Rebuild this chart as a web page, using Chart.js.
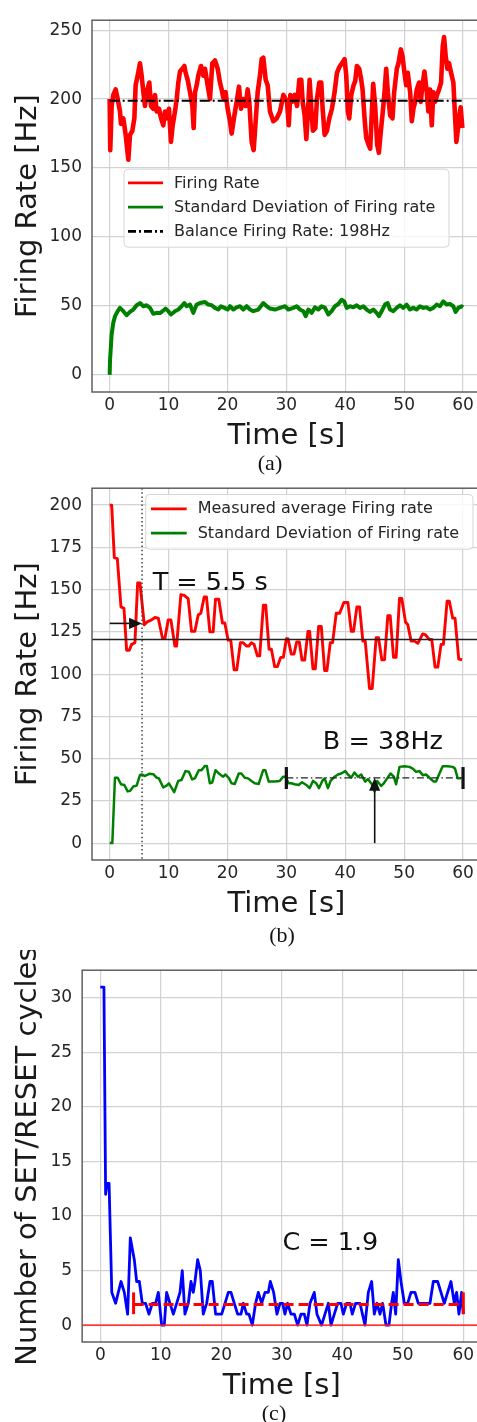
<!DOCTYPE html>
<html><head><meta charset="utf-8">
<script src="https://cdn.jsdelivr.net/npm/chart.js@4.4.0/dist/chart.umd.min.js"></script>
<style>
html,body{margin:0;padding:0;background:#fff;overflow:hidden;width:477px;height:1422px;position:relative;}
.panel{position:absolute;left:0;}
canvas{display:block;}
.cap{position:absolute;font-family:'Liberation Serif','Times New Roman',serif;font-size:22px;color:#111;transform:translate(-50%,-50%);white-space:nowrap;line-height:1;}
</style></head><body>
<div class="panel" style="top:0px"><canvas id="ca" width="490" height="455" style="width:490px;height:455px"></canvas></div>
<div class="panel" style="top:468px"><canvas id="cb" width="490" height="455" style="width:490px;height:455px"></canvas></div>
<div class="panel" style="top:950px"><canvas id="cc" width="490" height="455" style="width:490px;height:455px"></canvas></div>
<div class="cap" style="left:270px;top:463px">(a)</div>
<div class="cap" style="left:282px;top:935px">(b)</div>
<div class="cap" style="left:274px;top:1413px">(c)</div>
<script>
// ---------- shared ----------
const timeTicks = [0, 10, 20, 30, 40, 50, 60];

// ---------- panel (a) ----------
const aRateTime = [0,0.1,0.34,0.62,1.02,1.36,1.75,1.92,2.32,2.72,3.17,3.45,3.85,4.19,4.41,4.75,5.15,5.43,5.72,6.0,6.28,6.73,7.02,7.41,7.7,7.98,8.38,8.72,9.11,9.39,9.68,10.07,10.41,10.7,11.09,11.38,11.66,11.94,12.34,12.68,12.9,13.24,13.64,14.04,14.26,14.49,14.77,15.05,15.51,15.9,16.19,16.64,17.03,17.43,17.88,18.34,18.73,19.02,19.3,19.69,20.03,20.43,20.71,21.17,21.56,21.96,22.3,22.69,23.09,23.43,23.71,24.11,24.45,24.79,25.13,25.52,25.81,26.09,26.49,26.83,27.22,27.79,28.35,28.92,29.49,30.11,30.4,30.68,30.96,31.41,31.81,32.2,32.54,32.77,33.11,33.39,33.67,33.95,34.24,34.52,34.92,35.2,35.59,35.93,36.16,36.5,36.89,37.29,37.74,38.19,38.59,38.98,39.44,39.89,40.17,40.45,40.68,41.02,41.41,41.69,41.98,42.37,42.71,42.94,43.28,43.56,43.95,44.24,44.52,44.75,45.08,45.42,45.71,46.05,46.38,46.67,46.95,47.23,47.63,48.02,48.31,48.76,49.04,49.44,49.72,50.06,50.34,50.62,51.02,51.3,51.58,51.86,52.15,52.54,52.82,53.11,53.45,53.84,54.12,54.41,54.69,54.97,55.25,55.59,55.93,56.27,56.55,56.78,57.06,57.34,57.63,57.97,58.36,58.64,58.87,59.1,59.38,59.6,59.89];
const aRate = [200,163,195,203,207,200,191,182,186,174,156,174,177,186,210,217,226,217,205,195,205,212,195,193,203,191,193,186,181,191,186,193,169,181,191,200,212,220,222,224,219,214,205,195,179,205,210,217,224,217,222,210,200,226,228,222,212,207,201,205,193,184,175,188,198,209,193,200,195,207,198,169,163,184,205,217,229,230,214,210,191,184,186,191,203,198,181,203,198,203,195,214,214,198,188,171,191,214,193,177,179,200,212,212,193,174,177,186,193,205,219,223,226,229,217,191,186,203,210,213,224,222,214,207,186,172,167,164,191,211,195,167,161,177,191,205,222,205,188,186,205,222,226,236,231,219,210,219,205,184,193,198,207,212,198,210,220,205,191,207,181,205,198,203,207,212,238,245,231,222,226,219,212,188,169,177,188,194,179];
const aStdTime = [0,0.06,0.34,0.62,0.91,1.36,1.75,2.32,2.89,3.45,4.02,4.58,5.15,5.72,6.28,6.85,7.41,7.98,8.55,9.11,9.51,9.96,10.41,11.09,11.66,12.22,12.68,13.07,13.64,14.2,14.77,15.34,16.19,16.75,17.32,17.88,18.45,18.9,19.47,20.03,20.43,21.0,21.56,22.13,22.69,23.26,23.83,24.39,25.24,26.09,26.66,27.22,28.07,28.92,29.77,30.33,31.18,31.75,32.32,32.88,33.28,33.73,34.3,34.86,35.43,35.99,36.56,37.13,37.69,38.26,38.82,39.39,39.84,40.24,40.8,41.37,41.94,42.5,43.07,43.63,44.2,44.77,45.33,45.73,46.18,46.75,47.2,47.6,48.16,48.73,49.29,49.86,50.42,50.99,51.56,52.12,52.69,53.25,53.82,54.39,54.95,55.52,56.08,56.65,57.22,57.78,58.35,58.74,59.2,59.76,60.0];
const aStd = [0,10.5,29.5,37.9,42.6,46.2,48.6,46.2,43.3,45.7,47.4,50.5,52.1,49.8,50.5,48.6,44.3,45,44.8,46.7,48.1,46.2,43.8,46.2,47.4,49.8,52.1,49.8,51,45,51,52.1,52.9,51,50.5,48.6,47.4,49.8,48.6,47.4,49.8,47.4,49,49.8,47.4,49.8,47.4,46.2,47.4,52.1,49.8,48.1,47.4,48.6,49.8,47.4,48.6,49.8,47.4,46.2,42.6,47.4,45,49,47.4,49.8,48.6,43.8,46.2,49.8,51.4,54.5,53.3,48.6,49.8,49,50.5,48.6,49.8,47.4,45.7,47.4,45,42.6,46.2,51,52.1,47.4,46.2,48.6,50.5,48.6,51,47.4,48.6,47.4,49.8,48.6,49,47.4,48.6,51,49.8,53.3,51,51.4,49.8,45.7,48.6,49.8,49];
const aBalanceRate = 198.8;
const aYTicks = [0, 50, 100, 150, 200, 250];
const aLegendLabels = ['Firing Rate', 'Standard Deviation of Firing rate', 'Balance Firing Rate: 198Hz'];

// ---------- panel (b) ----------
const bRateTime = [0,0.34,0.79,1.3,1.92,2.43,2.88,3.33,3.73,4.29,4.75,5.14,5.88,6.44,7.12,7.68,8.25,8.98,9.38,9.94,10.4,11.07,11.36,12.09,12.66,13.33,13.9,14.46,15.03,15.48,16.05,16.44,17.01,17.57,17.97,18.53,19.15,19.55,20.11,20.56,21.13,21.58,22.2,22.66,23.22,23.62,24.07,24.52,25.08,25.48,26.1,26.5,27.06,27.46,28.02,28.47,29.04,29.49,30.0,30.28,30.85,31.3,31.75,32.2,32.66,33.11,33.67,33.95,34.52,34.92,35.48,35.93,36.5,36.89,37.46,37.85,38.47,39.04,39.77,40.45,41.02,41.41,41.98,42.43,42.99,43.39,44.12,44.58,45.25,45.65,46.21,46.67,47.23,47.63,48.19,48.64,49.21,49.6,50.23,50.62,51.19,51.75,52.32,53.16,53.56,54.29,54.69,55.25,55.71,56.27,56.67,57.29,57.68,58.25,58.64,59.27,59.83];
const bRate = [200,200,168.9,168.3,139.8,138.9,114.1,114.1,117.6,118.6,154,154,129.2,131.1,132.1,133.5,133.1,121.1,121.1,132.1,132.1,116.6,116.6,147,146.6,144.7,125.3,125.3,135,136,145.6,145.6,125,125,144.3,144.3,130.2,130.2,120.1,120.1,102.5,102.5,118.6,118.6,116.6,116.6,118.6,117.6,110.8,110.8,140.8,140.8,114.7,114.7,104.4,104.4,109.9,109.9,120.9,120.9,111.8,111.8,119,119,108.3,108.3,125.3,125.3,103.1,103.1,128.2,128.2,102.1,102.1,118.6,118.6,136,136,142.4,142.4,125.3,125.3,139.8,139.8,119.5,119.5,91.5,91.5,121.5,121.5,108.5,108.5,134.6,134.6,109.9,109.9,144.7,144.7,130.8,129.2,119.5,119.5,118.2,123.8,123.4,120.5,120.5,104.1,104.1,117.6,117.6,143.1,143.1,133.1,133.1,108.9,108.5];
const bStdTime = [0,0.45,0.9,1.36,1.92,2.49,3.05,3.45,4.01,4.58,5.14,5.42,5.99,6.72,7.4,7.97,8.36,9.1,9.66,10.06,10.96,11.64,12.2,12.88,13.45,14.01,14.46,15.14,15.59,16.16,16.5,17.01,17.4,17.97,18.53,19.27,19.66,20.28,20.68,21.24,21.92,22.37,22.94,23.5,24.07,24.63,25.31,26.05,26.44,27.01,28.02,28.87,29.44,29.83,30.4,30.85,31.41,32.09,32.66,33.39,33.95,34.52,35.08,35.54,36.1,36.5,37.06,37.51,38.19,38.76,39.32,40.0,40.45,41.02,41.58,42.15,42.71,43.39,43.84,44.52,44.97,45.42,46.1,46.55,47.12,47.68,48.25,48.64,49.21,50.06,50.9,51.47,52.03,52.6,53.16,53.73,54.29,55.03,55.42,55.99,56.55,57.4,58.25,58.64,59.1,59.66];
const bStd = [0,0,38.7,38.7,34.8,34.4,30.6,30.9,33.5,34,40.2,40.6,39.7,41,40.8,38.7,38.3,32.9,34,35.4,30.2,36.8,37.3,42.6,42.2,37.7,38.3,43.1,43.1,45.6,45.6,35.4,35.8,43.1,41.2,39.3,40.6,38.3,35.4,35,41.2,41.2,38.7,38.3,36.8,35.4,35,43.1,43.1,36.4,36.4,36.8,39.3,39.3,35.4,35.4,34.8,34.4,36,34.4,32.5,36.8,35.4,32.5,36.8,38.3,32.5,36.8,39.3,40.6,41.2,42.6,40.6,38.7,41.8,39.3,40.6,36.4,37.9,34.8,30.6,36.8,33.8,35.4,38.3,41.2,39.3,34.8,45.1,45.5,45.1,44.1,42.2,42.6,40.2,40.6,38.7,36.4,36.4,41.2,45.5,45.5,45.1,44.1,38.3,38.3];
const bSteadyRate = 120.5;
const bSettleTime = 5.5;
const bArrowLevel = 130;
const bStdMean = 38.6;
const bWindow = [30, 60];
const bCapRange = [32, 45];
const bArrowTime = 45;
const bYTicks = [0, 25, 50, 75, 100, 125, 150, 175, 200];
const bLegendLabels = ['Measured average Firing rate', 'Standard Deviation of Firing rate'];
const bTextT = {label: 'T = 5.5 s', x: 7.3, y: 149.5};
const bTextB = {label: 'B = 38Hz', x: 36.2, y: 55.4};

// ---------- panel (c) ----------
const cTime = [0,0.6,0.88,1.1,1.45,1.9,2.53,3.42,3.97,4.52,4.96,5.62,6.01,6.45,6.94,7.49,8.04,8.6,9.15,9.59,10.14,10.58,10.96,11.52,12.07,12.62,13.17,13.55,13.99,14.55,14.99,15.37,15.65,16.09,16.53,17.02,17.58,18.13,18.51,19.06,19.61,20.06,20.61,21.16,21.6,22.15,22.7,23.25,23.64,24.19,24.57,25.12,25.67,26.12,26.67,27.22,27.77,28.1,28.65,29.2,29.7,30.14,30.52,30.96,31.52,32.07,32.62,33.17,33.72,34.16,34.66,35.37,35.81,36.58,37.13,37.69,38.13,38.68,39.23,39.78,40.17,40.72,41.27,41.65,42.2,42.92,43.75,44.3,44.85,45.29,45.73,46.23,46.67,47.22,47.71,48.15,48.43,48.82,49.26,49.7,50.25,50.8,51.35,52.01,52.56,53.11,53.66,54.49,55.04,55.76,56.31,56.86,57.41,57.96,58.51,58.9,59.28,59.72,60];
const cCycles = [31,31,12,13,13,3,2,4,3,1,8,6,4,4,2,2,1,2,2,3,0,0,3,2,1,2,3,5,1,2,4,3,4,6,5,1,2,4,4,1,1,1,2,3,3,2,1,1,2,1,1,0,2,3,2,3,3,4,3,1,2,2,1,2,1,1,0,1,1,0,2,3,1,0,1,2,0,1,2,2,1,2,2,1,2,2,0,3,4,1,2,1,2,0,0,2,3,1,6,4,2,2,3,3,2,2,2,2,4,4,3,2,3,4,2,3,1,3,1];
const cMean = 1.9;
const cWindow = [5.5, 60];
const cCapRange = [1, 3];
const cYTicks = [0, 5, 10, 15, 20, 25, 30];
const cTextC = {label: 'C = 1.9', x: 30.1, y: 6.86};

// ---------- helpers ----------
Chart.defaults.font.family = "'DejaVu Sans', sans-serif";
const FONT = "'DejaVu Sans', sans-serif";
const gridColor = '#d2d2d2';
const textColor = '#262626';

function series(xs, ys) { return xs.map((x, i) => ({x: x, y: ys[i]})); }
function hline(y, x0, x1) { return [{x: x0, y: y}, {x: x1, y: y}]; }

function line(ctx, x0, y0, x1, y1, color, w, dash) {
  ctx.save();
  ctx.strokeStyle = color; ctx.lineWidth = w; ctx.setLineDash(dash || []);
  ctx.beginPath(); ctx.moveTo(x0, y0); ctx.lineTo(x1, y1); ctx.stroke();
  ctx.restore();
}
function arrow(ctx, x0, y0, x1, y1, color) {
  const len = 13, hw = 5.6;
  const dx = x1 - x0, dy = y1 - y0, d = Math.hypot(dx, dy);
  const ux = dx / d, uy = dy / d;
  const bx = x1 - ux * len, by = y1 - uy * len;
  line(ctx, x0, y0, bx, by, color, 1.6);
  ctx.save();
  ctx.fillStyle = color;
  ctx.beginPath();
  ctx.moveTo(x1, y1);
  ctx.lineTo(bx - uy * hw, by + ux * hw);
  ctx.lineTo(bx + uy * hw, by - ux * hw);
  ctx.closePath(); ctx.fill();
  ctx.restore();
}
function frame(chart) {
  const a = chart.chartArea, ctx = chart.ctx;
  ctx.save();
  ctx.strokeStyle = '#555'; ctx.lineWidth = 1.4;
  ctx.strokeRect(a.left, a.top, a.right - a.left, a.bottom - a.top);
  ctx.restore();
}
function legend(chart, box, items) {
  const a = chart.chartArea, ctx = chart.ctx;
  const x = a.left + box.dx, y = a.top + box.dy;
  ctx.save();
  ctx.beginPath();
  if (ctx.roundRect) ctx.roundRect(x, y, box.w, box.h, 4); else ctx.rect(x, y, box.w, box.h);
  ctx.fillStyle = 'rgba(255,255,255,0.82)'; ctx.fill();
  ctx.strokeStyle = '#d6d6d6'; ctx.lineWidth = 1; ctx.stroke();
  items.forEach((it, i) => {
    const cy = y + box.row0 + i * box.gap;
    line(ctx, x + box.h0, cy, x + box.h1, cy, it.color, 2.8, it.dash);
    ctx.fillStyle = textColor; ctx.font = '16px ' + FONT;
    ctx.textBaseline = 'middle'; ctx.textAlign = 'left';
    ctx.fillText(it.label, x + box.tx, cy + 0.5);
  });
  ctx.restore();
}
function label(chart, t, size) {
  const ctx = chart.ctx, xs = chart.scales.x, ys = chart.scales.y;
  ctx.save();
  ctx.fillStyle = '#111'; ctx.font = size + 'px ' + FONT;
  ctx.textBaseline = 'alphabetic'; ctx.textAlign = 'left';
  ctx.fillText(t.label, xs.getPixelForValue(t.x), ys.getPixelForValue(t.y));
  ctx.restore();
}

function makeOptions(o) {
  return {
    responsive: false, animation: false, devicePixelRatio: 1, events: [],
    layout: {padding: {top: o.padTop, left: 0, right: o.padRight, bottom: 0}},
    plugins: {legend: {display: false}, tooltip: {enabled: false}},
    elements: {point: {radius: 0}, line: {tension: 0, borderJoinStyle: 'round', borderCapStyle: 'butt'}},
    scales: {
      x: {
        type: 'linear', min: -3, max: 63,
        afterBuildTicks: s => { s.ticks = timeTicks.map(v => ({value: v})); },
        afterFit: s => { s.height = 63; },
        grid: {color: gridColor, lineWidth: 1.2, drawTicks: false},
        border: {display: false},
        ticks: {font: {size: 17}, color: textColor, padding: 3.5, maxRotation: 0, autoSkip: false},
        title: {display: true, text: 'Time [s]', font: {size: 29}, color: '#1a1a1a', padding: {top: 0, bottom: 1.5}}
      },
      y: {
        type: 'linear', min: o.yMin, max: o.yMax,
        afterBuildTicks: s => { s.ticks = o.yTicks.map(v => ({value: v})); },
        afterFit: s => { s.width = o.yWidth; },
        grid: {color: gridColor, lineWidth: 1.2, drawTicks: false},
        border: {display: false},
        ticks: {font: {size: 17}, color: textColor, padding: 10, autoSkip: false},
        title: {display: true, text: o.yTitle, font: {size: 29}, color: '#1a1a1a', padding: {top: 11.5, bottom: 0}}
      }
    }
  };
}

// ---------- chart (a) ----------
new Chart(document.getElementById('ca'), {
  type: 'line',
  data: {datasets: [
    {data: hline(aBalanceRate, 0, 60), borderColor: '#000', borderWidth: 2, borderDash: [10, 3, 2, 3], order: 0},
    {data: series(aStdTime, aStd), borderColor: '#008000', borderWidth: 4, order: 1},
    {data: series(aRateTime, aRate), borderColor: '#ff0000', borderWidth: 4.6, order: 2}
  ]},
  options: makeOptions({padTop: 14, padRight: 9.3, yMin: -12.4, yMax: 257.2, yTicks: aYTicks, yWidth: 92, yTitle: 'Firing Rate [Hz]'}),
  plugins: [{id: 'annA', afterDatasetsDraw(chart) {
    frame(chart);
    legend(chart, {dx: 32, dy: 149, w: 325, h: 78, row0: 13.7, gap: 24.2, h0: 4, h1: 39, tx: 50}, [
      {label: aLegendLabels[0], color: '#ff0000'},
      {label: aLegendLabels[1], color: '#008000'},
      {label: aLegendLabels[2], color: '#000', dash: [8, 3, 2, 3]}
    ]);
  }}]
});

// ---------- chart (b) ----------
new Chart(document.getElementById('cb'), {
  type: 'line',
  data: {datasets: [
    {data: hline(bSteadyRate, -3, 63), borderColor: '#222', borderWidth: 1.5, order: 0},
    {data: hline(bStdMean, bWindow[0], bWindow[1]), borderColor: '#222', borderWidth: 1.3, borderDash: [7, 3, 1.5, 3], order: 0},
    {data: series(bStdTime, bStd), borderColor: '#008000', borderWidth: 2.5, order: 1},
    {data: series(bRateTime, bRate), borderColor: '#ff0000', borderWidth: 2.9, order: 2}
  ]},
  options: makeOptions({padTop: 13.7, padRight: 9.3, yMin: -10, yMax: 210, yTicks: bYTicks, yWidth: 92, yTitle: 'Firing Rate [Hz]'}),
  plugins: [{id: 'annB', afterDatasetsDraw(chart) {
    const ctx = chart.ctx, a = chart.chartArea, xs = chart.scales.x, ys = chart.scales.y;
    const xT = xs.getPixelForValue(bSettleTime);
    line(ctx, xT, a.top, xT, a.bottom, '#444', 1.5, [1.5, 2.6]);
    arrow(ctx, xs.getPixelForValue(0), ys.getPixelForValue(bArrowLevel), xT, ys.getPixelForValue(bArrowLevel), '#111');
    arrow(ctx, xs.getPixelForValue(bArrowTime), ys.getPixelForValue(0), xs.getPixelForValue(bArrowTime), ys.getPixelForValue(bStdMean), '#111');
    bWindow.forEach(t => {
      const px = xs.getPixelForValue(t);
      line(ctx, px, ys.getPixelForValue(bCapRange[0]), px, ys.getPixelForValue(bCapRange[1]), '#111', 3.2);
    });
    label(chart, bTextT, 25.5);
    label(chart, bTextB, 25.5);
    frame(chart);
    legend(chart, {dx: 53.7, dy: 6.3, w: 327.3, h: 54.7, row0: 14.3, gap: 24.4, h0: 5.3, h1: 41, tx: 52}, [
      {label: bLegendLabels[0], color: '#ff0000'},
      {label: bLegendLabels[1], color: '#008000'}
    ]);
  }}]
});

// ---------- chart (c) ----------
new Chart(document.getElementById('cc'), {
  type: 'line',
  data: {datasets: [
    {data: hline(cMean, cWindow[0], cWindow[1]), borderColor: '#ff0000', borderWidth: 3, borderDash: [10, 5], order: 0},
    {data: hline(0, -3, 63), borderColor: 'rgba(255,30,30,0.85)', borderWidth: 1.6, order: 1},
    {data: series(cTime, cCycles), borderColor: '#0000ff', borderWidth: 2.8, order: 2}
  ]},
  options: makeOptions({padTop: 4, padRight: 8.55, yMin: -1.55, yMax: 32.55, yTicks: cYTicks, yWidth: 82.15, yTitle: 'Number of SET/RESET cycles'}),
  plugins: [{id: 'annC', afterDatasetsDraw(chart) {
    const ctx = chart.ctx, xs = chart.scales.x, ys = chart.scales.y;
    cWindow.forEach(t => {
      const px = xs.getPixelForValue(t);
      line(ctx, px, ys.getPixelForValue(cCapRange[0]), px, ys.getPixelForValue(cCapRange[1]), '#ff0000', 3);
    });
    label(chart, cTextC, 25.5);
    frame(chart);
  }}]
});
</script>
</body></html>
